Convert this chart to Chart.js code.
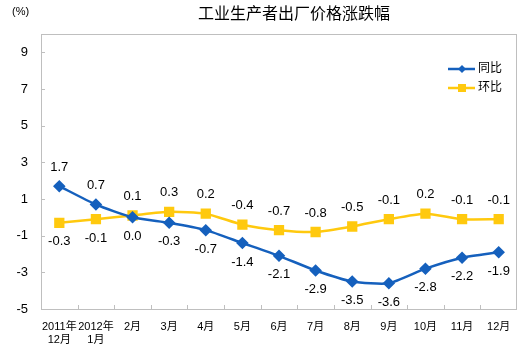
<!DOCTYPE html>
<html>
<head>
<meta charset="utf-8">
<script src="https://cdn.jsdelivr.net/npm/chart.js@4"></script>
<style>
  html, body { margin: 0; padding: 0; background: #fff; }
  #wrap { width: 525px; height: 347px; }
</style>
</head>
<body>
<div id="wrap"><canvas id="chart" width="525" height="347"></canvas></div>
<script>
// DATA
const months = [["2011年", "12月"], ["2012年", "1月"], "2月", "3月", "4月", "5月", "6月", "7月", "8月", "9月", "10月", "11月", "12月"];
const yoy = [1.7, 0.7, 0.0, -0.3, -0.7, -1.4, -2.1, -2.9, -3.5, -3.6, -2.8, -2.2, -1.9];
const mom = [-0.3, -0.1, 0.1, 0.3, 0.2, -0.4, -0.7, -0.8, -0.5, -0.1, 0.2, -0.1, -0.1];
const yTicks = [-5, -3, -1, 1, 3, 5, 7, 9];
const names = ["同比", "环比"];
const title = "工业生产者出厂价格涨跌幅";

const FONT = "'Liberation Sans', 'Noto Sans CJK SC', sans-serif";
const BLUE = "#1560BD";
const YELLOW = "#FFC90E";

// labels, border, title, legend
const extras = {
    id: "extras",
    beforeDatasetsDraw(chart) {
        const ctx = chart.ctx;
        const a = chart.chartArea;
        ctx.save();
        ctx.strokeStyle = "#BFBFBF";
        ctx.lineWidth = 1;
        ctx.strokeRect(a.left + 0.5, a.top + 0.5, a.right - a.left - 1, a.bottom - a.top);
        // inside tick marks on the x axis
        const x = chart.scales.x;
        ctx.beginPath();
        for (let i = 1; i < months.length; i++) {
            const px = Math.round((x.getPixelForValue(i - 1) + x.getPixelForValue(i)) / 2) + 0.5;
            ctx.moveTo(px, a.bottom);
            ctx.lineTo(px, a.bottom - 4);
        }
        // inside tick marks on the y axis
        const y = chart.scales.y;
        yTicks.forEach(v => {
            const py = Math.round(y.getPixelForValue(v)) + 0.5;
            ctx.moveTo(a.left, py);
            ctx.lineTo(a.left + 4, py);
        });
        ctx.stroke();
        ctx.restore();
    },
    afterDraw(chart) {
        const ctx = chart.ctx;
        ctx.save();
        // title
        ctx.fillStyle = "#000";
        ctx.font = "16px " + FONT;
        ctx.textAlign = "center";
        ctx.textBaseline = "middle";
        ctx.fillText(title, 294, 15);
        ctx.font = "11px " + FONT;
        ctx.textAlign = "left";
        ctx.fillText("(%)", 12, 12);

        // data labels
        ctx.font = "13px " + FONT;
        ctx.textAlign = "center";
        const m0 = chart.getDatasetMeta(0).data;
        const m1 = chart.getDatasetMeta(1).data;
        [yoy, mom].forEach((vals, d) => {
            const pts = d === 0 ? m0 : m1;
            const other = d === 0 ? mom : yoy;
            vals.forEach((v, i) => {
                const above = v > other[i];
                const p = pts[i];
                ctx.fillText(v.toFixed(1), p.x, above ? p.y - 19 : p.y + 19);
            });
        });

        // legend
        const cols = [BLUE, YELLOW];
        const ly = [69, 88];
        ctx.font = "12px " + FONT;
        ctx.textAlign = "left";
        cols.forEach((c, i) => {
            ctx.strokeStyle = c;
            ctx.fillStyle = c;
            ctx.lineWidth = 2.5;
            ctx.beginPath();
            ctx.moveTo(448, ly[i]);
            ctx.lineTo(475, ly[i]);
            ctx.stroke();
            if (i === 0) {
                ctx.beginPath();
                ctx.moveTo(462, ly[i] - 4);
                ctx.lineTo(466, ly[i]);
                ctx.lineTo(462, ly[i] + 4);
                ctx.lineTo(458, ly[i]);
                ctx.closePath();
                ctx.fill();
            } else {
                ctx.fillRect(458, ly[i] - 4, 8, 8);
            }
            ctx.fillStyle = "#000";
            ctx.fillText(names[i], 478, ly[i]);
        });
        ctx.restore();
    }
};

const chart = new Chart(document.getElementById("chart"), {
    type: "line",
    data: {
        labels: months,
        datasets: [{
            label: names[0],
            data: yoy,
            borderColor: BLUE,
            backgroundColor: BLUE,
            borderWidth: 2.5,
            pointStyle: "rectRot",
            pointRadius: 4.5,
            tension: 0.2
        }, {
            label: names[1],
            data: mom,
            borderColor: YELLOW,
            backgroundColor: YELLOW,
            borderWidth: 2.5,
            pointStyle: "rect",
            pointRadius: 5.5,
            tension: 0.2
        }]
    },
    options: {
        responsive: false,
        animation: false,
        layout: { padding: { top: 34, right: 7, left: 0, bottom: 0 } },
        plugins: { legend: { display: false }, tooltip: { enabled: false } },
        scales: {
            x: {
                offset: true,
                grid: { display: false, drawTicks: false },
                border: { display: false },
                ticks: {
                    color: "#000",
                    font: { size: 11, family: FONT },
                    maxRotation: 0,
                    autoSkip: false,
                    padding: 11
                },
                afterFit(s) { s.height = 38; }
            },
            y: {
                min: -5,
                max: 10,
                afterBuildTicks(s) { s.ticks = yTicks.map(v => ({ value: v })); },
                grid: { display: false, drawTicks: false },
                border: { display: false },
                ticks: {
                    color: "#000",
                    font: { size: 13, family: FONT },
                    padding: 13
                },
                afterFit(s) { s.width = 41; }
            }
        }
    },
    plugins: [extras]
});
</script>
</body>
</html>
